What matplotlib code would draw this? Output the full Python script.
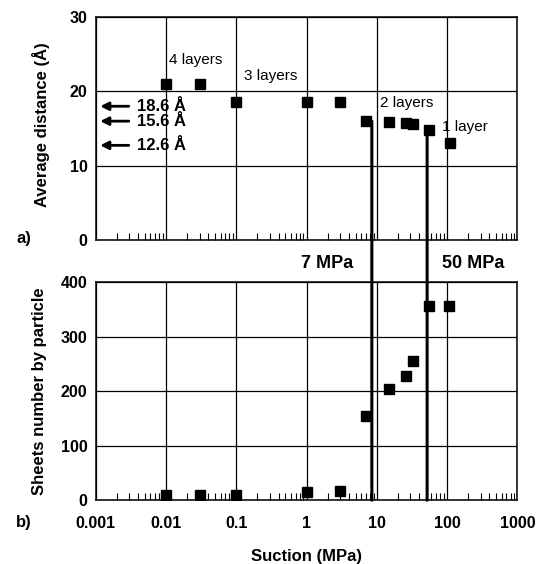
import numpy as np
import matplotlib
matplotlib.use("Agg")
from matplotlib import pyplot as plt
from matplotlib.patches import ConnectionPatch
from matplotlib.ticker import LogLocator, FixedLocator, FixedFormatter, NullFormatter

plt.rcParams['font.family'] = ['Liberation Sans', 'DejaVu Sans']

# a) average interlayer distance vs suction
suction_a = [0.01, 0.03, 0.1, 1, 3, 7, 15, 26, 33, 55, 110]
distance_a = [21, 21, 18.6, 18.6, 18.6, 16, 15.9, 15.7, 15.6, 14.8, 13]

# b) number of sheets per particle vs suction
suction_b = [0.01, 0.03, 0.1, 1, 3, 7, 15, 26, 33, 55, 105]
sheets_b = [10, 10, 10, 15, 17, 154, 203, 228, 255, 356, 356]

xticks = [0.001, 0.01, 0.1, 1, 10, 100, 1000]
xtick_labels = ["0.001", "0.01", "0.1", "1", "10", "100", "1000"]

arrow_y = [18, 16, 12.75]
arrow_text = ["18.6 Å", "15.6 Å", "12.6 Å"]

layer_text = ["4 layers", "3 layers", "2 layers", "1 layer"]
layer_x = [0.011, 0.13, 11, 85]
layer_y = [24.2, 22.1, 18.4, 15.2]

limit_suction = [8.5, 52]
limit_text = ["7 MPa", "50 MPa"]

fig = plt.figure(figsize=(5.44, 5.64), dpi=100)
ax1 = fig.add_axes([0.176, 0.574, 0.775, 0.396])
ax2 = fig.add_axes([0.176, 0.113, 0.775, 0.387])

for ax in (ax1, ax2):
    ax.set_xscale("log")
    ax.set_xlim(0.001, 1000)
    ax.xaxis.set_major_locator(FixedLocator(xticks))
    ax.xaxis.set_minor_locator(LogLocator(base=10, subs=np.arange(2, 10), numticks=20))
    ax.xaxis.set_minor_formatter(NullFormatter())
    ax.tick_params(axis="x", which="minor", direction="in", length=5, width=0.8, color="black")
    ax.tick_params(axis="x", which="major", length=0, pad=11, labelsize=11.5)
    ax.tick_params(axis="y", length=0, pad=6, labelsize=11.5)
    ax.grid(True, which="major", color="black", linewidth=0.9)
    ax.set_axisbelow(True)
    for s in ax.spines.values():
        s.set_linewidth(1.1)

ax1.plot(suction_a, distance_a, "s", color="black", markersize=7.5, zorder=5)
ax1.set_ylim(0, 30)
ax1.set_yticks([0, 10, 20, 30])
ax1.set_yticklabels(["0", "10", "20", "30"], fontweight="bold")
ax1.xaxis.set_major_formatter(NullFormatter())
ax1.set_ylabel("Average distance (Å)", fontsize=12, fontweight="bold")
ax1.yaxis.set_label_coords(-0.109, 0.52)

for t, xx, yy in zip(layer_text, layer_x, layer_y):
    ax1.text(xx, yy, t, fontsize=11, va="center", ha="left")

for yy, t in zip(arrow_y, arrow_text):
    ax1.annotate("", xy=(0.004, yy), xycoords=("axes fraction", "data"),
                 xytext=(0.085, yy), textcoords=("axes fraction", "data"),
                 arrowprops=dict(arrowstyle="-|>", color="black", lw=2, mutation_scale=12))
    ax1.text(0.098, yy, t, transform=ax1.get_yaxis_transform(), fontsize=12,
             fontweight="bold", va="center", ha="left")

ax2.plot(suction_b, sheets_b, "s", color="black", markersize=7.5, zorder=5)
ax2.set_ylim(0, 400)
ax2.set_yticks([0, 100, 200, 300, 400])
ax2.set_yticklabels(["0", "100", "200", "300", "400"], fontweight="bold")
ax2.xaxis.set_major_formatter(FixedFormatter(xtick_labels))
for lab in ax2.get_xticklabels():
    lab.set_fontweight("bold")
ax2.set_ylabel("Sheets number by particle", fontsize=12, fontweight="bold")
ax2.yaxis.set_label_coords(-0.116, 0.5)
ax2.set_xlabel("Suction (MPa)", fontsize=12, fontweight="bold", labelpad=13)

# thick vertical limits crossing both panels
starts = [distance_a[5], distance_a[9]]
for xs, y0, t in zip(limit_suction, starts, limit_text):
    con = ConnectionPatch(xyA=(xs, y0), coordsA=ax1.transData,
                          xyB=(xs, 0), coordsB=ax2.transData,
                          color="black", linewidth=2.2, zorder=6)
    fig.add_artist(con)

fig.text(0.553, 0.532, limit_text[0], fontsize=13, fontweight="bold", ha="left", va="center")
fig.text(0.812, 0.533, limit_text[1], fontsize=13, fontweight="bold", ha="left", va="center")

fig.text(0.03, 0.578, "a)", fontsize=12, fontweight="bold", va="center")
fig.text(0.03, 0.073, "b)", fontsize=12, fontweight="bold", va="center")

plt.savefig("out.png", dpi=100)
